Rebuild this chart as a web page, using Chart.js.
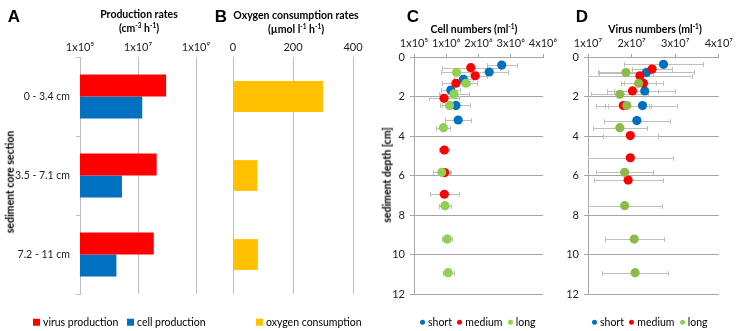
<!DOCTYPE html>
<html><head><meta charset="utf-8">
<script src="https://cdn.jsdelivr.net/npm/chart.js@4.4.1/dist/chart.umd.min.js"></script>
<style>
html,body{margin:0;padding:0;background:#fff;}
#wrap{position:relative;width:737px;height:331px;overflow:hidden;font-family:Lato,'Liberation Sans',sans-serif;color:#000;}
canvas{position:absolute;left:0;top:0;}
.t{position:absolute;white-space:nowrap;transform:translate(-50%,-50%);line-height:1;}
.letter{font-family:'Liberation Sans',Arial,sans-serif;font-weight:bold;font-size:17px;}
.title{font-size:10.5px;font-weight:bold;}
.rot{transform:translate(-50%,-50%) rotate(-90deg);font-size:10.5px;font-weight:bold;}
.leg{position:absolute;font-size:10.5px;white-space:nowrap;line-height:1;transform:translateY(-50%);}
.sq{display:inline-block;width:7px;height:7px;margin-right:3px;vertical-align:0px;}
.dot{display:inline-block;width:5px;height:5px;border-radius:50%;margin-right:3px;vertical-align:1px;}
sup{font-size:6.5px;vertical-align:4px;line-height:0;}
</style></head>
<body><div id="wrap">
<canvas id="cA" width="737" height="331"></canvas>
<canvas id="cB" width="737" height="331"></canvas>
<canvas id="cC" width="737" height="331"></canvas>
<canvas id="cD" width="737" height="331"></canvas>

<div class="t letter" style="left:14px;top:16px;">A</div>
<div class="t letter" style="left:221px;top:16px;">B</div>
<div class="t letter" style="left:413px;top:16px;">C</div>
<div class="t letter" style="left:582px;top:16px;">D</div>

<div class="t title" style="left:139px;top:14px;">Production rates</div>
<div class="t title" style="left:139px;top:28px;">(cm<sup>-3</sup> h<sup>-1</sup>)</div>
<div class="t title" style="left:296px;top:15px;">Oxygen consumption rates</div>
<div class="t title" style="left:296px;top:29px;">(µmol l<sup>-1</sup> h<sup>-1</sup>)</div>
<div class="t title" style="left:474px;top:29px;">Cell numbers (ml<sup>-1</sup>)</div>
<div class="t title" style="left:655px;top:29px;">Virus numbers (ml<sup>-1</sup>)</div>

<div class="t rot" style="left:10px;top:182px;">sediment core section</div>
<div class="t rot" style="left:387px;top:175px;">sediment depth [cm]</div>

<div class="leg" style="left:33px;top:322px;"><span class="sq" style="background:#FF0000"></span>virus production</div>
<div class="leg" style="left:127px;top:322px;"><span class="sq" style="background:#0070C0"></span>cell production</div>
<div class="leg" style="left:256px;top:322px;"><span class="sq" style="background:#FFC000"></span>oxygen consumption</div>
<div class="leg" style="left:420px;top:322px;"><span class="dot" style="background:#0070C0"></span>short&nbsp; <span class="dot" style="background:#FF0000"></span>medium&nbsp; <span class="dot" style="background:#92D050"></span>long</div>
<div class="leg" style="left:592px;top:322px;"><span class="dot" style="background:#0070C0"></span>short&nbsp; <span class="dot" style="background:#FF0000"></span>medium&nbsp; <span class="dot" style="background:#92D050"></span>long</div>
</div>
<script>
// ---------- data ----------
const sections = ['0 - 3.4 cm', '3.5 - 7.1 cm', '7.2 - 11 cm'];
const virusProduction = [9.3e7, 4.4e7, 3.5e7];
const cellProduction = [1.4e7, 2.8e6, 1.8e6];
const oxygenConsumption = [300, 81, 83];

const prodTicks = [1e5, 1e7, 1e9];
const prodTickLabels = ['1x10⁵', '1x10⁷', '1x10⁹'];
const cellTickLabels = ['1x10⁵', '1x10⁶', '2x10⁶', '3x10⁶', '4x10⁶'];
const virusTickLabels = ['1x10⁷', '2x10⁷', '3x10⁷', '4x10⁷'];

// Cell numbers (ml-1)
const cellShortDepth = [0.41, 0.76, 1.13, 1.67, 2.45, 3.19];
const cellShortValue = [2.72e6, 2.33e6, 1.53e6, 1.14e6, 1.30e6, 1.37e6];
const cellShortErr = [0.47e6, 0.6e6, 0.3e6, 0.3e6, 0.43e6, 0.41e6];
const cellMediumDepth = [0.54, 0.95, 1.33, 2.09, 4.71, 5.85, 6.95];
const cellMediumValue = [1.76e6, 1.90e6, 1.30e6, 0.93e6, 0.94e6, 0.95e6, 0.94e6];
const cellMediumErr = [0.9e6, 0.35e6, 0.44e6, 0.45e6, 0.15e6, 0.2e6, 0.45e6];
const cellLongDepth = [0.78, 1.33, 1.87, 2.45, 3.58, 5.84, 7.53, 9.22, 10.92];
const cellLongValue = [1.32e6, 1.61e6, 1.24e6, 1.10e6, 0.91e6, 0.86e6, 0.96e6, 1.03e6, 1.06e6];
const cellLongErr = [0.49e6, 0.34e6, 0.48e6, 0.3e6, 0.22e6, 0.26e6, 0.2e6, 0.15e6, 0.17e6];

// Virus numbers (ml-1)
const virShortDepth = [0.37, 0.78, 1.72, 2.46, 3.22];
const virShortValue = [2.73e7, 2.34e7, 2.30e7, 2.25e7, 2.12e7];
const virShortErr = [0.9e7, 1.1e7, 0.7e7, 0.79e7, 0.75e7];
const virMediumDepth = [0.61, 0.95, 1.33, 1.72, 2.46, 3.98, 5.10, 6.23];
const virMediumValue = [2.47e7, 2.19e7, 2.27e7, 2.02e7, 1.81e7, 1.97e7, 1.97e7, 1.92e7];
const virMediumErr = [0.46e7, 1.2e7, 0.44e7, 0.59e7, 0.63e7, 0.63e7, 0.97e7, 0.79e7];
const virLongDepth = [0.79, 1.33, 1.89, 2.46, 3.58, 5.84, 7.53, 9.22, 10.92];
const virLongValue = [1.87e7, 2.16e7, 1.73e7, 1.89e7, 1.73e7, 1.84e7, 1.84e7, 2.06e7, 2.08e7];
const virLongErr = [0.62e7, 0.41e7, 0.65e7, 0.5e7, 0.62e7, 0.65e7, 0.86e7, 0.68e7, 0.75e7];

const depthTicks = [0, 2, 4, 6, 8, 10, 12];

// ---------- helpers ----------
const W = 737, H = 331;
const FAM = "Lato, 'Liberation Sans', sans-serif";
const FONT = {family: FAM, size: 10.5};
const XFONT = {family: FAM, size: 11};
const TXT = '#222';
function pad(L, T, R, B, yW, xH) {
  return {autoPadding: false, padding: {left: L - yW, top: T - xH, right: W - R, bottom: H - B}};
}
const pts = (xs, ys) => xs.map((v, i) => ({x: v, y: ys[i]}));

const errorBars = {
  id: 'errorBars',
  beforeDatasetsDraw(chart) {
    const {ctx, chartArea: a, scales: {x, y}} = chart;
    ctx.save();
    ctx.beginPath();
    ctx.rect(a.left, a.top - 3, a.right - a.left, a.bottom - a.top + 6);
    ctx.clip();
    ctx.strokeStyle = '#BFBFBF';
    ctx.lineWidth = 1;
    chart.data.datasets.forEach(ds => {
      ds.data.forEach((p, i) => {
        const e = ds.errors[i];
        const x0 = Math.round(x.getPixelForValue(p.x - e)) + 0.5;
        const x1 = Math.round(x.getPixelForValue(p.x + e)) + 0.5;
        const py = Math.round(y.getPixelForValue(p.y)) + 0.5;
        ctx.beginPath();
        ctx.moveTo(x0, py); ctx.lineTo(x1, py);
        ctx.moveTo(x0, py - 2.5); ctx.lineTo(x0, py + 2.5);
        ctx.moveTo(x1, py - 2.5); ctx.lineTo(x1, py + 2.5);
        ctx.stroke();
      });
    });
    ctx.restore();
  }
};

Chart.defaults.font.family = FAM;
Chart.defaults.color = TXT;

const common = {
  responsive: false, animation: false, devicePixelRatio: 1,
  plugins: {legend: {display: false}, tooltip: {enabled: false}},
  events: []
};

// ---------- A ----------
new Chart(document.getElementById('cA'), {
  type: 'bar',
  data: {labels: sections, datasets: [
    {data: virusProduction, backgroundColor: '#FF0000', categoryPercentage: 0.56, barPercentage: 1.0},
    {data: cellProduction, backgroundColor: '#0070C0', categoryPercentage: 0.56, barPercentage: 1.0}
  ]},
  options: Object.assign({}, common, {
    indexAxis: 'y',
    layout: pad(80, 57, 196, 294, 80, 57),
    scales: {
      x: {type: 'logarithmic', position: 'top', min: 1e5, max: 1e9,
        afterBuildTicks: s => { s.ticks = prodTicks.map(v => ({value: v})); },
        afterFit: s => { s.height = 57; },
        ticks: {callback: (v, i) => prodTickLabels[i], font: XFONT, padding: 3, maxRotation: 0, color: TXT},
        grid: {color: '#BFBFBF', drawTicks: false}, border: {display: false}},
      y: {afterFit: s => { s.width = 80; },
        ticks: {font: FONT, padding: 6, color: TXT},
        grid: {offset: true, drawOnChartArea: false, tickLength: 4, color: '#BFBFBF'},
        border: {display: true, color: '#BFBFBF'}}
    }
  })
});

// ---------- B ----------
new Chart(document.getElementById('cB'), {
  type: 'bar',
  data: {labels: sections, datasets: [
    {data: oxygenConsumption, backgroundColor: '#FFC000', categoryPercentage: 0.39, barPercentage: 1.0}
  ]},
  options: Object.assign({}, common, {
    indexAxis: 'y',
    layout: pad(233, 57, 353, 294, 0, 57),
    scales: {
      x: {type: 'linear', position: 'top', min: 0, max: 400,
        afterFit: s => { s.height = 57; },
        ticks: {stepSize: 200, font: XFONT, padding: 3, maxRotation: 0, color: TXT},
        grid: {color: '#BFBFBF', drawTicks: false}, border: {display: false}},
      y: {display: false}
    }
  })
});

// ---------- scatter builder ----------
function scatter(id, L, R, xMin, xMax, step, labels, series) {
  return new Chart(document.getElementById(id), {
    type: 'scatter',
    data: {datasets: series.map(s => ({
      data: pts(s.v, s.d), errors: s.e, order: s.order,
      backgroundColor: s.c, borderColor: s.c, borderWidth: 0,
      pointRadius: 4.6, pointHoverRadius: 4.6
    }))},
    options: Object.assign({}, common, {
      layout: pad(L, 57, R, 294, 30, 57),
      scales: {
        x: {type: 'linear', position: 'top', min: xMin, max: xMax,
          afterFit: s => { s.height = 57; },
          ticks: {stepSize: step, callback: (v, i) => labels[i], font: XFONT, padding: 4, maxRotation: 0, color: TXT},
          grid: {drawOnChartArea: false, tickLength: 3, color: '#A6A6A6'},
          border: {display: true, color: '#A6A6A6'}},
        y: {type: 'linear', reverse: true, min: 0, max: 12,
          afterFit: s => { s.width = 30; },
          afterBuildTicks: s => { s.ticks = depthTicks.map(v => ({value: v})); },
          ticks: {font: {family: FAM, size: 11}, padding: 5, color: TXT},
          grid: {color: '#A6A6A6', tickLength: 4},
          border: {display: true, color: '#A6A6A6'}}
      }
    }),
    plugins: [errorBars]
  });
}

scatter('cC', 414, 543, 0, 4e6, 1e6, cellTickLabels, [
  {d: cellShortDepth, v: cellShortValue, e: cellShortErr, c: '#0070C0', order: 3},
  {d: cellMediumDepth, v: cellMediumValue, e: cellMediumErr, c: '#FF0000', order: 2},
  {d: cellLongDepth, v: cellLongValue, e: cellLongErr, c: '#92D050', order: 1}
]);
scatter('cD', 588, 723, 1e7, 4e7, 1e7, virusTickLabels, [
  {d: virShortDepth, v: virShortValue, e: virShortErr, c: '#0070C0', order: 3},
  {d: virMediumDepth, v: virMediumValue, e: virMediumErr, c: '#FF0000', order: 2},
  {d: virLongDepth, v: virLongValue, e: virLongErr, c: '#8DBB4A', order: 1}
]);
</script>
</body></html>
